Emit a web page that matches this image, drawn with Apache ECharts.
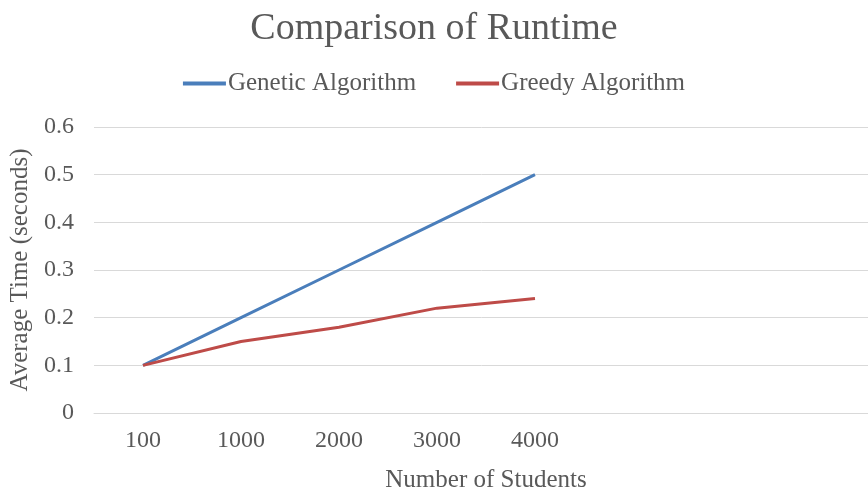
<!DOCTYPE html>
<html>
<head>
<meta charset="utf-8">
<script src="https://cdn.jsdelivr.net/npm/echarts@6/dist/echarts.min.js"></script>
<style>html,body{margin:0;padding:0;background:#fff;}#c{width:868px;height:493px;}</style>
</head>
<body>
<div id="c"></div>
<script>
const categories = ['100', '1000', '2000', '3000', '4000', '', '', ''];
const geneticValues = [0.1, 0.2, 0.3, 0.4, 0.5];
const greedyValues = [0.1, 0.15, 0.18, 0.22, 0.24];
const seriesNames = ['Genetic Algorithm', 'Greedy Algorithm'];

const font = '"Liberation Serif", "Times New Roman", serif';
const chart = echarts.init(document.getElementById('c'));
chart.setOption({
  backgroundColor: '#fff',
  animation: false,
  title: {
    text: 'Comparison of Runtime',
    left: 'center', top: 5,
    textStyle: { fontFamily: font, fontSize: 38, fontWeight: 'normal', color: '#595959' }
  },
  legend: {
    top: 66, left: 'center',
    itemWidth: 43, itemHeight: 4, itemGap: 40,
    icon: 'rect',
    textStyle: { fontFamily: font, fontSize: 25, color: '#595959', padding: [0, 0, 0, -3] },
    data: seriesNames
  },
  grid: { left: 94, right: -10, top: 127, bottom: 80, containLabel: false, outerBoundsMode: 'none' },
  xAxis: {
    type: 'category',
    data: categories,
    boundaryGap: true,
    name: 'Number of Students',
    nameLocation: 'middle',
    nameGap: 55,
    nameTextStyle: { fontFamily: font, fontSize: 25, color: '#595959' },
    axisLine: { lineStyle: { color: '#d9d9d9', width: 1 } },
    axisTick: { show: false },
    axisLabel: { fontFamily: font, fontSize: 24, color: '#595959', margin: 16 }
  },
  yAxis: {
    type: 'value',
    min: 0, max: 0.6, interval: 0.1,
    name: 'Average Time (seconds)',
    nameLocation: 'middle',
    nameGap: 60,
    nameTextStyle: { fontFamily: font, fontSize: 25, color: '#595959' },
    axisLine: { show: false },
    axisTick: { show: false },
    axisLabel: { fontFamily: font, fontSize: 24, color: '#595959', margin: 20, formatter: v => String(+v.toFixed(1)) },
    splitLine: { lineStyle: { color: '#d9d9d9', width: 1 } }
  },
  series: [
    { name: seriesNames[0], type: 'line', data: geneticValues, symbol: 'none',
      lineStyle: { color: '#4a7ebb', width: 3 }, itemStyle: { color: '#4a7ebb' } },
    { name: seriesNames[1], type: 'line', data: greedyValues, symbol: 'none',
      lineStyle: { color: '#be4b48', width: 3 }, itemStyle: { color: '#be4b48' } }
  ]
});
</script>
</body>
</html>
